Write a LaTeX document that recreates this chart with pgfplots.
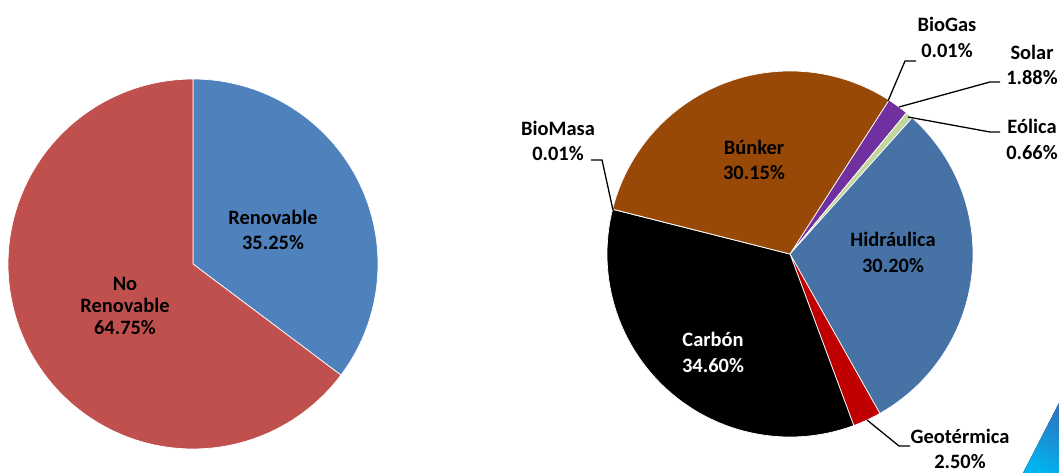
\documentclass[border=0pt]{standalone}
\usepackage{pgfplots}
\pgfplotsset{compat=1.18}
\usepackage{fontspec}
\setmainfont{Carlito}
\definecolor{renov}{HTML}{4F81BD}
\definecolor{norenov}{HTML}{C0504D}
\definecolor{hidra}{HTML}{4672A6}
\definecolor{bunker}{HTML}{984807}
\definecolor{solar}{HTML}{7030A0}
\definecolor{eolica}{HTML}{C3D69B}
\definecolor{geot}{HTML}{C00000}
\definecolor{carbon}{HTML}{000000}
\definecolor{biogas}{HTML}{8064A2}
\definecolor{biomasa}{HTML}{4BACC6}
\definecolor{tri1}{HTML}{00B4F0}
\definecolor{tri2}{HTML}{2B78C2}

\def\curang{0}
% #1 cx, #2 cy, #3 radius, #4 value (percent), #5 colour
\newcommand\pieslice[5]{%
  \pgfmathsetmacro\endang{\curang-3.6*#4}%
  \edef\doslice{\noexpand\addplot[fill=#5, draw=white, line width=0.7pt, domain=\endang:\curang, samples=90] ({#1+#3*cos(x)},{#2+#3*sin(x)}) -- (#1,#2) -- cycle;}%
  \doslice
  \global\let\curang\endang
}
\tikzset{lbl/.style={font=\bfseries\fontsize{20.5}{25.5}\selectfont, align=center, inner sep=0pt}}

\begin{document}
\begin{tikzpicture}
\begin{axis}[hide axis, scale only axis, width=1059bp, height=473bp,
  xmin=0, xmax=1059, ymin=0, ymax=473, clip=false]
% decorative triangle
\fill[top color=tri2, bottom color=tri1, shading angle=-30] (1023,0) -- (1059,70) -- (1059,0) -- cycle;

% ---- left pie: Renovable / No Renovable ----
\gdef\curang{90}
\pieslice{193}{209}{185}{35.25}{renov}
\pieslice{193}{209}{185}{64.75}{norenov}

% ---- right pie: energy sources ----
\gdef\curang{57.3}
\pieslice{790}{219}{183}{0.01}{biogas}
\pieslice{790}{219}{183}{1.88}{solar}
\pieslice{790}{219}{183}{0.66}{eolica}
\pieslice{790}{219}{183}{30.20}{hidra}
\pieslice{790}{219}{183}{2.50}{geot}
\pieslice{790}{219}{183}{34.60}{carbon}
\pieslice{790}{219}{183}{0.01}{biomasa}
\pieslice{790}{219}{183}{30.15}{bunker}

% labels inside
\node[lbl] at (273,243) {Renovable\\35.25\%};
\node[lbl, font=\bfseries\fontsize{20.5}{22.5}\selectfont] at (125,167) {No\\Renovable\\64.75\%};
\node[lbl] at (754,313) {Búnker\\30.15\%};
\node[lbl] at (893,220.5) {Hidráulica\\30.20\%};
\node[lbl, text=white] at (713,120.5) {Carbón\\34.60\%};

% outside labels with leader lines
\draw[line width=1.3pt] (888,372) -- (905,412) -- (916,412);
\node[lbl] at (947,435.5) {BioGas\\0.01\%};
\draw[line width=1.3pt] (899,366) -- (990,391) -- (1000,391);
\node[lbl] at (1032,408) {Solar\\1.88\%};
\draw[line width=1.3pt] (908,356) -- (990,341) -- (1000,341);
\node[lbl] at (1032,333.5) {Eólica\\0.66\%};
\draw[line width=1.3pt] (613,263) -- (602,313) -- (591,313);
\node[lbl] at (558,332) {BioMasa\\0.01\%};
\draw[line width=1.3pt] (867,53) -- (899,27) -- (910,27);
\node[lbl] at (960,24) {Geotérmica\\2.50\%};
\end{axis}
\pgfresetboundingbox
\path (current axis.south west) rectangle (current axis.north east);
\end{tikzpicture}
\end{document}
